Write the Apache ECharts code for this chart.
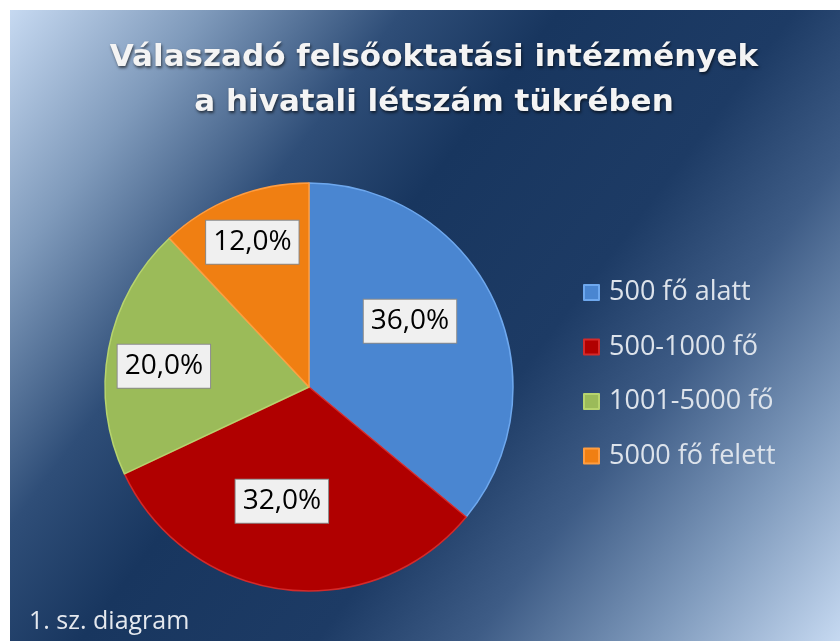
<!DOCTYPE html>
<html>
<head>
<meta charset="utf-8">
<script src="https://cdn.jsdelivr.net/npm/echarts@6/dist/echarts.min.js"></script>
<style>
  html, body { margin: 0; padding: 0; background: #fff; }
  #main { position: absolute; left: 10px; top: 10px; width: 830px; height: 631px; }
</style>
</head>
<body>
<div id="main"></div>
<script>
// adatok
var categories = ['500 fő alatt', '500-1000 fő', '1001-5000 fő', '5000 fő felett']
var shares = [36.0, 32.0, 20.0, 12.0]
var sliceColors = ['#4a86d1', '#b00000', '#9bbb59', '#f07f12']
var rimColors = ['#6ea8ee', '#d42a2a', '#b7d46e', '#ff9d40']
// címkék eltolása az alap (sugár felénél lévő) helyzethez képest
var labelOffsets = [[6, -21], [-14, 10], [-42, -1], [-18, -47]]

var myChart = echarts.init(document.getElementById('main'))

var pieData = categories.map(function(name, i) {
  return {
    name: name,
    value: shares[i],
    itemStyle: {
      color: sliceColors[i],
      borderColor: rimColors[i],
      borderWidth: 1.5
    },
    label: {
      offset: labelOffsets[i]
    }
  }
})

var option = {
  backgroundColor: new echarts.graphic.LinearGradient(0, 0, 1, 1, [
    { offset: 0, color: '#c6d9f1' },
    { offset: 0.15, color: '#7f9abb' },
    { offset: 0.3, color: '#2f4e78' },
    { offset: 0.42, color: '#18365f' },
    { offset: 0.6, color: '#1d3b65' },
    { offset: 0.72, color: '#3e5c86' },
    { offset: 0.86, color: '#809bbd' },
    { offset: 1, color: '#c6d9f1' }
  ]),
  title: [{
    text: 'Válaszadó felsőoktatási intézmények\na hivatali létszám tükrében',
    left: 419,
    top: 20,
    textAlign: 'center',
    textStyle: {
      fontFamily: 'DejaVu Sans',
      fontWeight: 'bold',
      fontSize: 31,
      lineHeight: 45,
      color: '#f4f4f4',
      textShadowColor: 'rgba(0,0,0,0.6)',
      textShadowBlur: 3,
      textShadowOffsetX: 1,
      textShadowOffsetY: 2
    }
  }, {
    text: '1. sz. diagram',
    left: 14,
    top: 594,
    textStyle: {
      fontFamily: 'Open Sans',
      fontWeight: 'normal',
      fontSize: 25,
      color: '#e4e8ee'
    }
  }],
  legend: {
    orient: 'vertical',
    left: 568,
    top: 264,
    icon: 'rect',
    itemWidth: 15,
    itemHeight: 15,
    itemGap: 27.5,
    data: categories,
    textStyle: {
      fontFamily: 'Open Sans',
      fontSize: 27,
      lineHeight: 26,
      color: '#dde3eb',
      padding: [0, 0, 0, 5]
    }
  },
  series: [{
    type: 'pie',
    center: [299, 377],
    radius: 204,
    startAngle: 90,
    clockwise: true,
    silent: true,
    data: pieData,
    label: {
      show: true,
      position: 'inside',
      formatter: function(p) {
        return p.value.toFixed(1).replace('.', ',') + '%'
      },
      fontFamily: 'Open Sans',
      fontSize: 28,
      color: '#000',
      backgroundColor: '#f0f0f0',
      borderColor: '#8a8a8a',
      borderWidth: 1,
      padding: [3, 7, 3, 7],
      lineHeight: 37
    },
    labelLine: { show: false }
  }]
}

myChart.setOption(option)
window.addEventListener('resize', function() {
  myChart.resize()
})
</script>
</body>
</html>
